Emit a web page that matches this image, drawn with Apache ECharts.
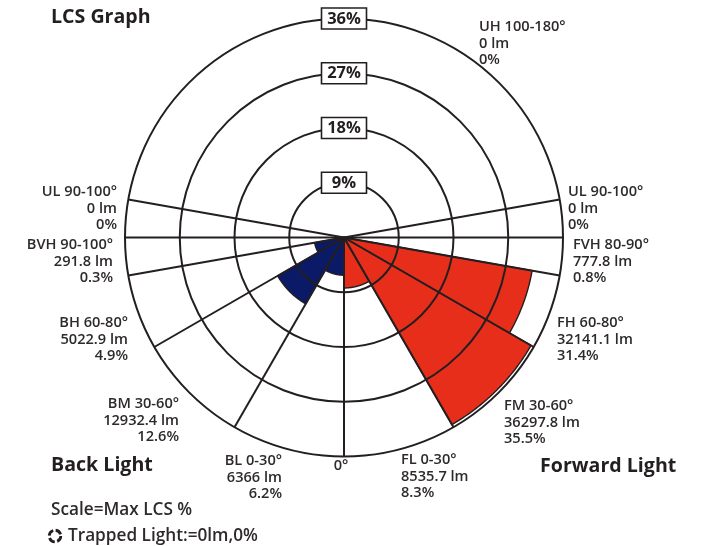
<!DOCTYPE html>
<html><head><meta charset="utf-8">
<script src="https://cdn.jsdelivr.net/npm/echarts@6/dist/echarts.min.js"></script>
<style>html,body{margin:0;padding:0;background:#fff}#c{width:715px;height:546px}</style>
</head><body><div id="c"></div>
<script>
// ---- data ----
const zoneStart = [0, 30, 60, 80, 90, 100];
const zoneEnd = [30, 60, 80, 90, 100, 180];
const forwardPct = [8.3, 35.5, 31.4, 0.8, 0, 0];
const backPct = [6.2, 12.6, 4.9, 0.3, 0, 0];
const forwardZoneNames = ['FL 0-30°', 'FM 30-60°', 'FH 60-80°', 'FVH 80-90°', 'UL 90-100°', 'UH 100-180°'];
const forwardLumens = ['8535.7 lm', '36297.8 lm', '32141.1 lm', '777.8 lm', '0 lm', '0 lm'];
const backZoneNames = ['BL 0-30°', 'BM 30-60°', 'BH 60-80°', 'BVH 90-100°', 'UL 90-100°'];
const backLumens = ['6366 lm', '12932.4 lm', '5022.9 lm', '291.8 lm', '0 lm'];
const boundaryAngles = [0, 30, 60, 80, 90, 100];
const ringTicks = [9, 18, 27, 36];
const ringTickLabels = ['9%', '18%', '27%', '36%'];

// ---- layout / style ----
const INK = '#231f20';
const TXT = '#2e2a2b';
const RED = '#e62e1b';
const NAVY = '#0b1a66';
const LBL_FONT = '600 14.6px "Open Sans"';
const LH = 16.5;
const forwardLabelPos = [[401, 452], [504, 398], [557, 315], [573, 237], [568, 184], [479, 19]];
const backLabelPos = [[282, 453], [179, 396], [128, 315], [113, 237], [117, 184]];

const chart = echarts.init(document.getElementById('c'), null, {renderer: 'canvas'});

function toAxisAngle(t, side) { return side === 0 ? 180 - t : 180 + t; }

const sectorData = [];
forwardPct.forEach((v, i) => sectorData.push([v, zoneStart[i], zoneEnd[i], 0]));
backPct.forEach((v, i) => sectorData.push([v, zoneStart[i], zoneEnd[i], 1]));

const lineData = [];
boundaryAngles.forEach(a => { lineData.push([a, 0]); lineData.push([a, 1]); });

const graphics = [];
function addLabel(lines, pos, align) {
  graphics.push({
    type: 'text', x: pos[0], y: pos[1], z: 100,
    style: {text: lines.join('\n'), font: LBL_FONT, fill: TXT, lineHeight: LH,
      textAlign: align, textVerticalAlign: 'top'}
  });
}
forwardZoneNames.forEach((n, i) => addLabel([n, forwardLumens[i], forwardPct[i] + '%'], forwardLabelPos[i], 'left'));
backZoneNames.forEach((n, i) => addLabel([n, backLumens[i], backPct[i] + '%'], backLabelPos[i], 'right'));
const TITLE_FONT = 'bold 19.6px "Open Sans"';
graphics.push({type: 'text', x: 51, y: 17, z: 100, style: {text: 'LCS Graph', font: TITLE_FONT, fill: INK, textVerticalAlign: 'middle'}});
graphics.push({type: 'text', x: 51, y: 465, z: 100, style: {text: 'Back Light', font: TITLE_FONT, fill: INK, textVerticalAlign: 'middle'}});
graphics.push({type: 'text', x: 540, y: 466, z: 100, style: {text: 'Forward Light', font: TITLE_FONT, fill: INK, textVerticalAlign: 'middle'}});
graphics.push({type: 'text', x: 341, y: 466, z: 100, style: {text: '0°', font: LBL_FONT, fill: TXT, textAlign: 'center', textVerticalAlign: 'middle'}});
graphics.push({type: 'text', x: 51, y: 510, z: 100, style: {text: 'Scale=Max LCS %', font: '600 17.2px "Open Sans"', fill: TXT, textVerticalAlign: 'middle'}});
graphics.push({type: 'text', x: 68, y: 536, z: 100, style: {text: 'Trapped Light:=0lm,0%', font: '600 17.2px "Open Sans"', fill: TXT, textVerticalAlign: 'middle'}});
graphics.push({type: 'circle', shape: {cx: 55, cy: 536, r: 5.8}, z: 100,
  style: {fill: 'none', stroke: INK, lineWidth: 2.8, lineDash: [6.6, 2.5]}});

chart.setOption({
  backgroundColor: '#fff',
  animation: false,
  polar: {center: [344, 237.5], radius: 219},
  angleAxis: {type: 'value', min: 0, max: 360, startAngle: 90, clockwise: true, show: false},
  radiusAxis: {type: 'value', min: 0, max: 36, interval: 9, show: false},
  graphic: graphics,
  series: [
    {
      type: 'custom', coordinateSystem: 'polar', z: 2, silent: true,
      data: sectorData,
      renderItem: function (params, api) {
        const v = api.value(0), a0 = api.value(1), a1 = api.value(2), side = api.value(3);
        if (!v) return {type: 'group', children: []};
        const c = api.coord([0, 0]);
        const pts = [c];
        for (let t = a0; t <= a1; t += 0.5) pts.push(api.coord([v, toAxisAngle(t, side)]));
        return {type: 'polygon', shape: {points: pts},
          style: {fill: side === 0 ? RED : NAVY, stroke: INK, lineWidth: 1.4, lineJoin: 'round'}};
      }
    },
    {
      type: 'custom', coordinateSystem: 'polar', z: 3, silent: true,
      data: ringTicks.map(v => [v]),
      renderItem: function (params, api) {
        const c = api.coord([0, 0]);
        const p = api.coord([api.value(0), 0]);
        const r = Math.hypot(p[0] - c[0], p[1] - c[1]);
        return {type: 'circle', shape: {cx: c[0], cy: c[1], r: r},
          style: {fill: 'none', stroke: INK, lineWidth: 2}};
      }
    },
    {
      type: 'custom', coordinateSystem: 'polar', z: 4, silent: true,
      data: lineData,
      renderItem: function (params, api) {
        const c = api.coord([0, 0]);
        const p = api.coord([ringTicks[ringTicks.length - 1], toAxisAngle(api.value(0), api.value(1))]);
        return {type: 'line', shape: {x1: c[0], y1: c[1], x2: p[0], y2: p[1]},
          style: {stroke: INK, lineWidth: 2}};
      }
    },
    {
      type: 'custom', coordinateSystem: 'polar', z: 5, silent: true,
      data: ringTicks.map((v, i) => [v, i]),
      renderItem: function (params, api) {
        const p = api.coord([api.value(0), 0]);
        return {type: 'group', children: [
          {type: 'rect', shape: {x: p[0] - 22.5, y: p[1] - 10.5, width: 45, height: 21},
            style: {fill: '#fff', stroke: INK, lineWidth: 1.6}},
          {type: 'text', x: p[0], y: p[1] + 0.5,
            style: {text: ringTickLabels[api.value(1)], font: 'bold 16.5px "Open Sans"', fill: INK,
              textAlign: 'center', textVerticalAlign: 'middle'}}
        ]};
      }
    }
  ]
});
</script></body></html>
